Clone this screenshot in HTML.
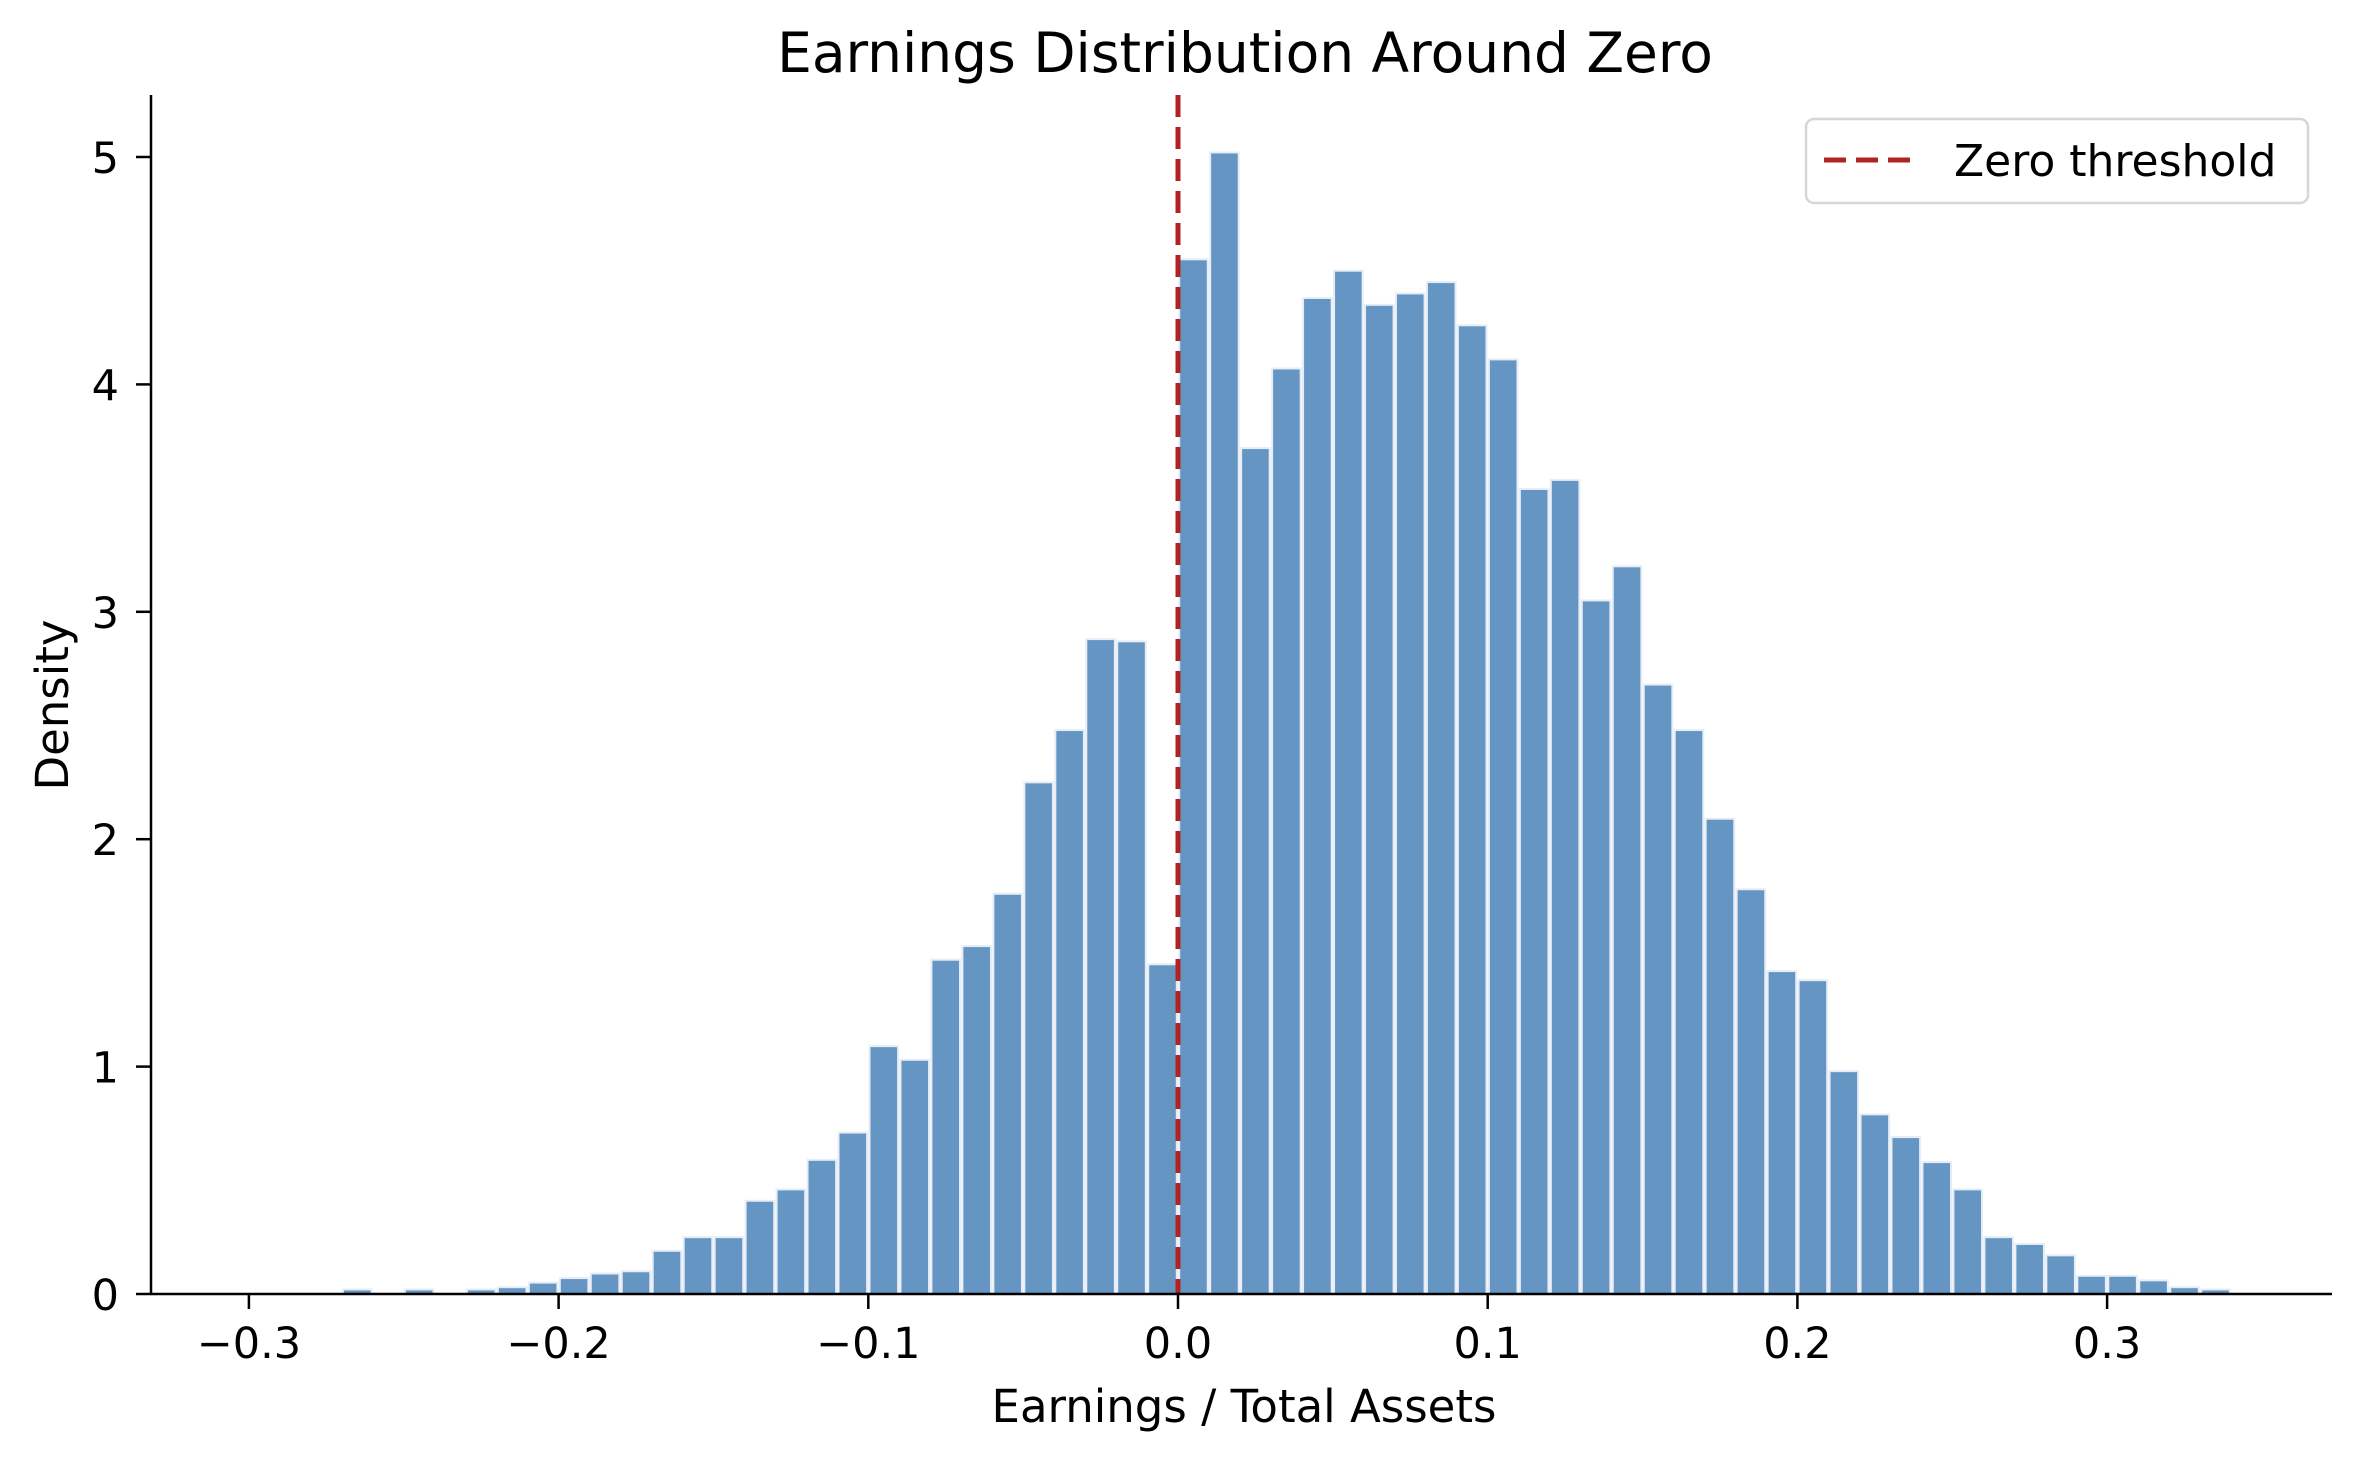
<!DOCTYPE html>
<html><head><meta charset="utf-8"><style>
html,body{margin:0;padding:0;background:#fff;}
svg{display:block;}
text{font-family:"DejaVu Sans","Liberation Sans",sans-serif;fill:#000;}
</style></head><body>
<svg id="c" width="2360" height="1460" viewBox="0 0 2360 1460" xmlns="http://www.w3.org/2000/svg">
<rect width="2360" height="1460" fill="#fff"/>
<g id="bars"></g>
<line x1="1178" y1="95" x2="1178" y2="1294" stroke="#b22222" stroke-width="5" stroke-dasharray="22,10"/>
<line x1="151" y1="95" x2="151" y2="1295" stroke="#000" stroke-width="2.5"/>
<line x1="150" y1="1294" x2="2332" y2="1294" stroke="#000" stroke-width="2.5"/>
<g id="ticks"></g>
<text x="1245" y="72" font-size="55" text-anchor="middle">Earnings Distribution Around Zero</text>
<text x="1244" y="1422" font-size="45" text-anchor="middle">Earnings / Total Assets</text>
<text transform="translate(68,705) rotate(-90)" font-size="45" text-anchor="middle">Density</text>
<rect x="1806" y="119" width="502" height="84" rx="8" fill="#fff" fill-opacity="0.8" stroke="#d6d6d6" stroke-width="2.5"/>
<line x1="1824" y1="160" x2="1917" y2="160" stroke="#b22222" stroke-width="5" stroke-dasharray="22,10"/>
<text x="1954" y="176" font-size="44">Zero threshold</text>
</svg>
<script>
var NS="http://www.w3.org/2000/svg";
function el(t,a,p){var e=document.createElementNS(NS,t);for(var k in a)e.setAttribute(k,a[k]);p.appendChild(e);return e;}
var X0=1178,SX=3097,Y0=1294,SY=227.4;
var right=[4.55,5.02,3.72,4.07,4.38,4.50,4.35,4.40,4.45,4.26,4.11,3.54,3.58,3.05,3.20,2.68,2.48,2.09,1.78,1.42,1.38,0.98,0.79,0.69,0.58,0.46,0.25,0.22,0.17,0.08,0.08,0.06,0.03,0.02];
var left=[1.45,2.87,2.88,2.48,2.25,1.76,1.53,1.47,1.03,1.09,0.71,0.59,0.46,0.41,0.25,0.25,0.19,0.10,0.09,0.07,0.05,0.03,0.02,0,0.02,0,0.02];
var g=document.getElementById('bars');
function bar(k,h){if(h<=0)return;var x=X0+k*0.01*SX,w=0.01*SX,y=Y0-h*SY;
el('rect',{x:x+1.2,y:y,width:w-2.4,height:Y0-y,fill:'#6596c3',stroke:'#e6edf6','stroke-width':2},g);}
right.forEach(function(h,i){bar(i,h);});
left.forEach(function(h,i){bar(-(i+1),h);});
var t=document.getElementById('ticks');
[-0.3,-0.2,-0.1,0,0.1,0.2,0.3].forEach(function(v){var x=X0+v*SX;
el('line',{x1:x,y1:1294,x2:x,y2:1309,stroke:'#000','stroke-width':2.5},t);
var s=(v<0?'\u2212':'')+Math.abs(v).toFixed(1);
var e=el('text',{x:x,y:1358,'font-size':43,'text-anchor':'middle'},t);e.textContent=s;});
for(var i=0;i<=5;i++){var y=Y0-i*SY;
el('line',{x1:136,y1:y,x2:151,y2:y,stroke:'#000','stroke-width':2.5},t);
var e=el('text',{x:119,y:y+16,'font-size':43,'text-anchor':'end'},t);e.textContent=i;}
</script>
</body></html>
